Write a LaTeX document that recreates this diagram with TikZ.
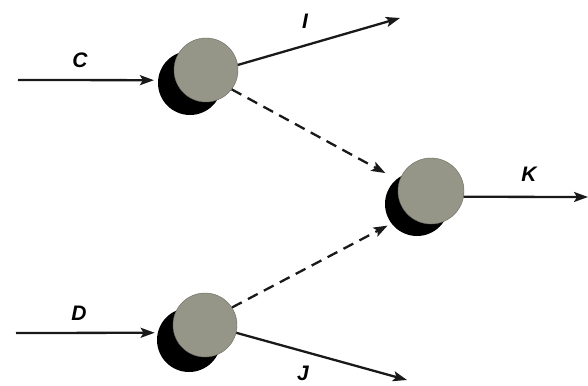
\documentclass[tikz,border=0pt]{standalone}
\usepackage{fontspec}
\setmainfont{Liberation Sans}
\usetikzlibrary{arrows.meta}
\definecolor{ballgray}{RGB}{150,150,136}
\tikzset{
  ball/.style={circle, fill=ballgray, draw=ballgray!70!black, line width=0.4pt, minimum size=64pt, inner sep=0pt},
  shadowball/.style={circle, fill=black, minimum size=64pt, inner sep=0pt},
  flow/.style={line width=2.3pt, draw=black!90, -{Stealth[length=14pt,width=10pt,inset=3pt]}},
  dflow/.style={flow, dash pattern=on 11pt off 7pt},
  lbl/.style={font=\fontsize{21}{21}\selectfont\bfseries\itshape, inner sep=0pt}
}
\begin{document}
\begin{tikzpicture}[x=1pt,y=-1pt]
\useasboundingbox (0,0) rectangle (588,385);
% shadows
\node[shadowball] (ts) at (190,83) {};
\node[shadowball] (ms) at (417,204) {};
\node[shadowball] (bs) at (189,340) {};
% balls
\node[ball] (t) at (206,70) {};
\node[ball, minimum size=66pt] (m) at (431,191) {};
\node[ball] (b) at (205,325) {};
% free ends
\coordinate (cs) at (18,80);
\coordinate (ds) at (16,333);
\coordinate (ie) at (400,18);
\coordinate (je) at (407,380);
\coordinate (ke) at (588,197);
% connectors
\draw[flow, shorten >=4pt] (cs) -- (ts.175);
\draw[flow, shorten >=3pt] (ds) -- (bs.167);
\draw[flow] (t.9) -- (ie);
\draw[flow] (b.-14) -- (je);
\draw[flow] (m.-10) -- (ke);
\draw[dflow, shorten >=16pt] (t.-37) -- (m.162);
\draw[dflow, shorten >=23pt] (b.33) -- (m.226);
% labels
\node[lbl] (lc) at (80,60) {C};
\node[lbl] (ld) at (79,313) {D};
\node[lbl] (li) at (305,21) {I};
\node[lbl] (lj) at (303,373) {J};
\node[lbl] (lk) at (529,174) {K};
\end{tikzpicture}
\end{document}
